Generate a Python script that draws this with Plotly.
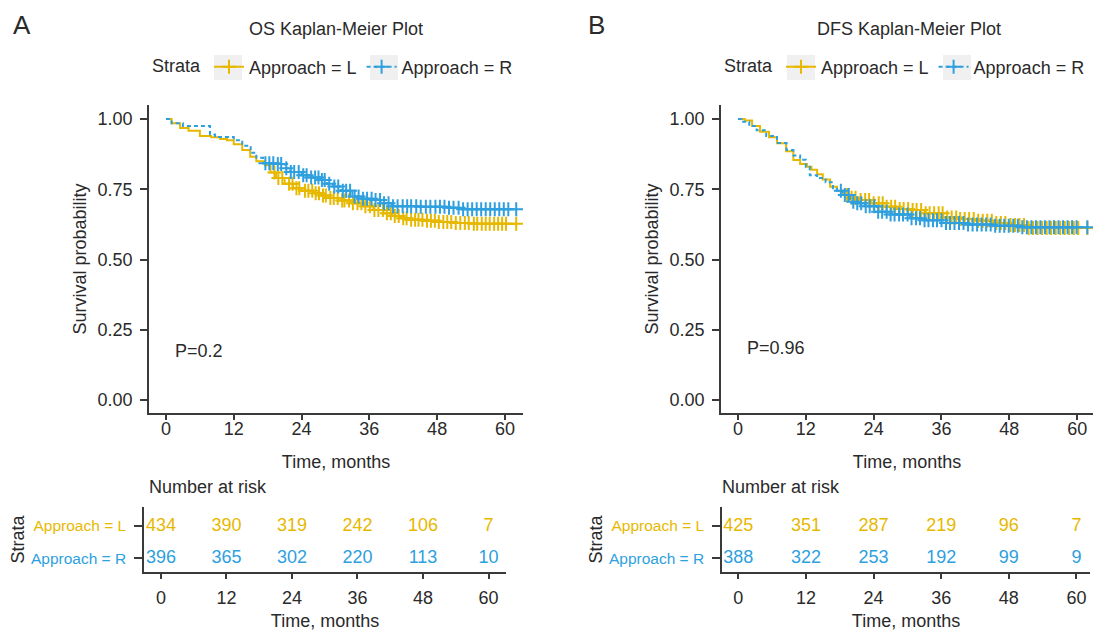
import numpy as np
import plotly.graph_objects as go

W, H = 1097, 631
YEL, BLU = "#E7B800", "#2E9FDF"
TXT = "#2a2a2a"
AX = "#3a3a3a"
FONT = "Liberation Sans, Arial, sans-serif"

# ---------------- data ----------------
os_L_t = [0, 1, 2.5, 4, 6, 8, 9.6, 10.8, 12, 13.5, 14.9, 16, 17.5, 18.5, 19.5, 21, 22.5, 24, 26,
          27.5, 29, 31, 33, 35, 36.7, 38.5, 40, 41.4, 43, 45.5, 48, 51, 54.4]
os_L_s = [1, .985, .968, .958, .94, .935, .929, .925, .91, .89, .866, .85, .836, .81, .79, .77, .754,
          .745, .736, .728, .719, .71, .70, .69, .676, .665, .655, .647, .642, .638, .634, .630, .627]
os_L_cens = [19.2, 19.9, 20.6, 21.8, 22.4, 23.1, 23.6, 24.6, 25.2, 25.9, 26.5, 27.1, 27.8, 28.3,
             29.1, 29.7, 30.4, 31.2, 31.6, 32.4, 33.1, 33.9, 34.6, 35.3, 36.1, 36.9, 37.6, 38.4,
             39.1, 39.8, 40.5, 41.2, 42.0, 42.6, 43.4, 44.1, 44.7, 45.4, 46.2, 46.9, 47.6, 48.3,
             49.1, 49.8, 50.5, 51.3, 52.1, 52.9, 53.6, 54.5, 55.1, 55.9, 56.6, 57.3, 58.1, 58.8,
             59.5, 60.2, 62.0]

os_R_t = [0, 1, 3, 7.8, 8.7, 12, 13.5, 15, 16, 17.2, 19.6, 21, 22, 24, 25.5, 27.3, 28.5, 29.6,
          31, 33, 34.8, 36.6, 38, 40, 45, 50, 52]
os_R_s = [1, .985, .975, .945, .936, .925, .905, .88, .862, .843, .84, .825, .812, .80, .792, .783,
          .77, .76, .745, .724, .716, .712, .70, .69, .688, .684, .679]
os_R_cens = [17.6, 18.3, 19.0, 19.8, 20.4, 21.3, 22.1, 22.7, 23.5, 24.3, 24.9, 25.7, 26.4, 27.0,
             27.6, 28.1, 28.9, 29.8, 30.5, 31.3, 31.9, 32.6, 33.4, 34.1, 34.9, 35.6, 36.4, 37.1,
             37.9, 38.6, 39.4, 40.2, 41.0, 41.9, 42.7, 43.4, 44.3, 45.1, 46.0, 46.8, 47.7, 48.5,
             49.3, 50.1, 50.9, 51.8, 52.6, 53.4, 54.2, 55.0, 55.8, 56.6, 57.4, 58.2, 59.0, 59.8,
             60.6, 62.0]

dfs_L_t = [0, 1.2, 2.5, 3.9, 5.5, 6.9, 8.5, 9.8, 11, 12.2, 13, 14, 15, 16.3, 17.5, 18.6, 20, 21.6,
           23.5, 25.7, 28, 30.4, 33, 36.3, 39, 42.3, 45, 48.1, 51]
dfs_L_s = [1, .995, .975, .955, .935, .914, .885, .854, .84, .83, .82, .804, .785, .759, .745, .73,
           .72, .712, .70, .688, .68, .676, .665, .65, .644, .638, .63, .623, .612]
dfs_L_cens = [19.3, 20.1, 20.8, 21.7, 22.5, 23.2, 24.0, 24.9, 25.6, 26.3, 27.1, 27.8, 28.6, 29.3,
              30.1, 30.9, 31.6, 32.4, 33.2, 33.9, 34.7, 35.5, 36.2, 37.0, 37.8, 38.6, 39.3, 40.1,
              40.9, 41.7, 42.5, 43.3, 44.1, 44.9, 45.7, 46.5, 47.3, 48.2, 49.0, 49.8, 50.6, 51.4,
              52.2, 53.0, 53.8, 54.6, 55.4, 56.2, 57.0, 57.8, 58.6, 59.4, 60.2, 61.8]

dfs_R_t = [0, 0.6, 2, 3.3, 5, 6.9, 8.6, 9.8, 11, 12, 12.7, 14, 15.5, 16.8, 17.5, 18.5, 19.8, 21,
           22.5, 24.6, 27, 30.4, 33, 36.3, 40, 45, 50]
dfs_R_s = [1, .99, .975, .96, .94, .915, .89, .87, .855, .83, .80, .79, .775, .754, .745, .73, .706,
           .70, .69, .67, .66, .647, .64, .63, .625, .62, .615]
dfs_R_cens = [18.2, 18.9, 19.6, 20.4, 21.1, 21.8, 22.6, 23.3, 24.1, 24.8, 25.5, 26.3, 27.0, 27.7,
              28.5, 29.2, 30.0, 30.7, 31.5, 32.2, 33.0, 33.7, 34.5, 35.2, 36.0, 36.8, 37.5, 38.3,
              39.1, 39.9, 40.7, 41.5, 42.3, 43.1, 43.9, 44.7, 45.5, 46.3, 47.1, 47.9, 48.7, 49.5,
              50.3, 51.1, 51.9, 52.7, 53.5, 54.3, 55.1, 55.9, 56.7, 57.5, 58.3, 59.1, 59.9, 61.8]

risk_times = [0, 12, 24, 36, 48, 60]
os_risk_L = [434, 390, 319, 242, 106, 7]
os_risk_R = [396, 365, 302, 220, 113, 10]
dfs_risk_L = [425, 351, 287, 219, 96, 7]
dfs_risk_R = [388, 322, 253, 192, 99, 9]

p_os, p_dfs = "P=0.2", "P=0.96"
titles = ["OS Kaplan-Meier Plot", "DFS Kaplan-Meier Plot"]
strata_names = ["Approach = L", "Approach = R"]


def step_at(t_knots, s_knots, t):
    idx = np.searchsorted(np.asarray(t_knots), np.asarray(t), side="right") - 1
    return np.asarray(s_knots)[idx]


def px(x):
    return x / W


def py(y):
    return 1 - y / H


fig = go.Figure()

panels = [
    dict(xa="x", ya="y", leg="legend", L=(os_L_t, os_L_s, os_L_cens), R=(os_R_t, os_R_s, os_R_cens)),
    dict(xa="x2", ya="y2", leg="legend2", L=(dfs_L_t, dfs_L_s, dfs_L_cens), R=(dfs_R_t, dfs_R_s, dfs_R_cens)),
]

for p in panels:
    for key, col, dash, name in [("L", YEL, "solid", strata_names[0]), ("R", BLU, "4px,3px", strata_names[1])]:
        t, s, c = p[key]
        end = max(c)
        xs = list(t) + [end]
        ys = list(s) + [s[-1]]
        fig.add_trace(go.Scatter(x=xs, y=ys, mode="lines", line=dict(color=col, width=2, dash=dash, shape="hv"),
                                 xaxis=p["xa"], yaxis=p["ya"], showlegend=False, hoverinfo="skip"))
        fig.add_trace(go.Scatter(x=c, y=step_at(t, s, c), mode="markers",
                                 marker=dict(symbol="cross-thin", size=10, line=dict(color=col, width=2)),
                                 xaxis=p["xa"], yaxis=p["ya"], showlegend=False, hoverinfo="skip"))
        # legend entry
        fig.add_trace(go.Scatter(x=[None], y=[None], mode="lines+markers", name=name,
                                 line=dict(color=col, width=2, dash=dash),
                                 marker=dict(symbol="cross-thin", size=10, line=dict(color=col, width=2)),
                                 xaxis=p["xa"], yaxis=p["ya"], legend=p["leg"]))

# risk tables
for xa, ya, rl, rr in [("x3", "y3", os_risk_L, os_risk_R), ("x4", "y4", dfs_risk_L, dfs_risk_R)]:
    fig.add_trace(go.Scatter(x=risk_times, y=[2] * len(risk_times), mode="text", text=[str(v) for v in rl],
                             textfont=dict(color=YEL, size=18, family=FONT), xaxis=xa, yaxis=ya,
                             showlegend=False, hoverinfo="skip"))
    fig.add_trace(go.Scatter(x=risk_times, y=[1] * len(risk_times), mode="text", text=[str(v) for v in rr],
                             textfont=dict(color=BLU, size=18, family=FONT), xaxis=xa, yaxis=ya,
                             showlegend=False, hoverinfo="skip"))

tickfont = dict(size=18, color=TXT, family=FONT)
ttl = dict(size=18, color=TXT, family=FONT)
common_x = dict(showline=True, linecolor=AX, linewidth=1.5, ticks="outside", ticklen=5, tickwidth=1.5,
                tickcolor=AX, tickvals=risk_times, showgrid=False, zeroline=False, tickfont=tickfont)
common_y = dict(showline=True, linecolor=AX, linewidth=1.5, ticks="outside", ticklen=7, tickwidth=1.5,
                tickcolor=AX, showgrid=False, zeroline=False, tickfont=tickfont)

main_x = dict(common_x, ticklabelstandoff=-6, title=dict(text="Time, months", font=ttl, standoff=17))
risk_x = dict(common_x, ticklabelstandoff=4, title=dict(text="Time, months", font=ttl, standoff=7))
main_y = dict(common_y, ticklabelstandoff=4, range=[-0.046, 1.05],
              tickvals=[0, 0.25, 0.5, 0.75, 1.0], ticktext=["0.00", "0.25", "0.50", "0.75", "1.00"],
              title=dict(text="Survival probability", font=ttl, standoff=6))
risk_y = dict(common_y, ticklen=8, ticklabelstandoff=5, range=[0.565, 2.595], tickvals=[1, 2],
              ticktext=["<span style='color:%s'>%s</span>" % (BLU, strata_names[1]),
                        "<span style='color:%s'>%s</span>" % (YEL, strata_names[0])],
              tickfont=dict(size=15.5, family=FONT),
              title=dict(text="Strata", font=ttl, standoff=2))

ydom = [py(413), py(105)]
rdom = [py(572), py(507)]
leg_common = dict(orientation="h", xanchor="left", yanchor="middle",
                  title=dict(text="Strata", side="left", font=ttl),
                  font=ttl, bgcolor="rgba(0,0,0,0)", itemwidth=30)
fig.update_layout(
    width=W, height=H, margin=dict(l=0, r=0, t=0, b=0),
    paper_bgcolor="white", plot_bgcolor="white",
    font=dict(family=FONT, color=TXT, size=18),
    xaxis=dict(main_x, domain=[px(149), px(523)], range=[-3.0, 63.2], anchor="y"),
    yaxis=dict(main_y, domain=ydom, anchor="x"),
    xaxis2=dict(main_x, domain=[px(721), px(1093)], range=[-3.0, 62.8], anchor="y2"),
    yaxis2=dict(main_y, domain=ydom, anchor="x2"),
    xaxis3=dict(risk_x, domain=[px(144), px(506)], range=[-3.1, 63.2], anchor="y3"),
    yaxis3=dict(risk_y, domain=rdom, anchor="x3"),
    xaxis4=dict(risk_x, domain=[px(722), px(1090)], range=[-2.9, 62.4], anchor="y4"),
    yaxis4=dict(risk_y, domain=rdom, anchor="x4"),
    legend=dict(leg_common, x=px(150), y=py(67)),
    legend2=dict(leg_common, x=px(722), y=py(67)),
)

# light grey key boxes behind legend symbols
for x0 in [214, 370, 787, 943]:
    fig.add_shape(type="rect", xref="paper", yref="paper", x0=px(x0), x1=px(x0 + 28), y0=py(80), y1=py(55),
                  fillcolor="#F0F0F0", line=dict(width=0), layer="above")

ann = [
    dict(text="A", x=px(22), y=py(25), font=dict(size=26, color=TXT)),
    dict(text="B", x=px(596), y=py(25), font=dict(size=26, color=TXT)),
    dict(text=titles[0], x=px(336), y=py(29), font=ttl),
    dict(text=titles[1], x=px(909), y=py(29), font=ttl),
    dict(text="Number at risk", x=px(147), y=py(487), xanchor="left", font=ttl),
    dict(text="Number at risk", x=px(720), y=py(487), xanchor="left", font=ttl),
]
for a in ann:
    a.setdefault("xanchor", "center")
    fig.add_annotation(xref="paper", yref="paper", showarrow=False, yanchor="middle", **a)

fig.add_annotation(text=p_os, x=1.3, y=0.175, xref="x", yref="y", xanchor="left", yanchor="middle",
                   showarrow=False, font=ttl)
fig.add_annotation(text=p_dfs, x=1.3, y=0.185, xref="x2", yref="y2", xanchor="left", yanchor="middle",
                   showarrow=False, font=ttl)

fig.write_html("out.html", config={"displayModeBar": False},
               post_script="document.body.style.margin='0px';")
